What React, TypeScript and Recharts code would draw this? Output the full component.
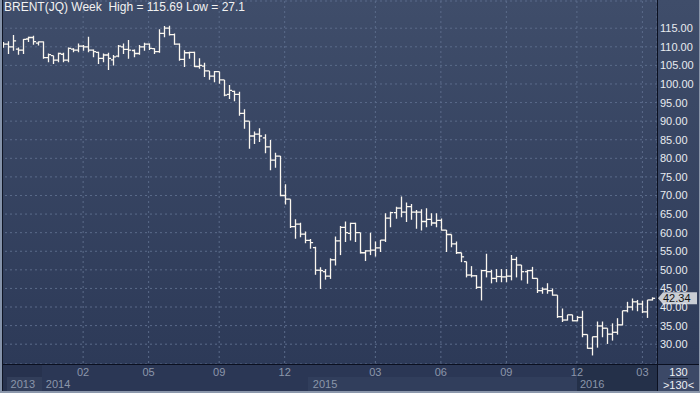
import React from 'react';
import { ComposedChart, Bar, XAxis, YAxis, CartesianGrid, ReferenceLine } from 'recharts';

// Weekly OHLC, BRENT(JQ)
const opens = [110.2, 110.7, 110.0, 109.4, 109.1, 112.1, 112.5, 111.0, 111.3, 107.1, 107.6, 106.4, 108.0, 106.4, 109.4, 109.1, 110.2, 110.0, 109.1, 108.5, 106.9, 107.8, 106.5, 107.5, 110.0, 109.3, 109.0, 108.2, 110.0, 110.7, 109.5, 108.7, 113.6, 115.0, 113.3, 110.7, 106.6, 108.4, 108.5, 104.7, 104.8, 103.5, 102.1, 103.3, 101.1, 97.2, 98.0, 97.2, 92.1, 90.0, 86.0, 86.5, 85.5, 83.1, 79.5, 80.6, 70.0, 69.0, 61.6, 62.3, 59.6, 57.9, 56.0, 49.9, 49.5, 48.3, 52.7, 57.8, 61.4, 59.8, 62.5, 60.0, 54.6, 55.1, 55.3, 55.9, 58.0, 63.9, 65.4, 66.6, 65.5, 67.0, 65.5, 65.5, 63.0, 63.6, 62.6, 63.3, 60.7, 59.5, 57.0, 54.6, 52.2, 48.6, 48.4, 45.3, 49.8, 49.5, 47.7, 48.2, 48.1, 48.3, 52.8, 51.3, 49.5, 49.8, 47.7, 44.4, 44.8, 44.4, 43.2, 37.4, 36.5, 37.9, 36.3, 37.2, 32.6, 28.9, 32.0, 34.9, 34.3, 32.7, 33.2, 35.2, 39.0, 40.0, 41.4, 40.8, 38.7, 41.9];
const highs = [111.3, 111.5, 113.2, 109.8, 112.1, 112.7, 113.0, 111.4, 111.4, 108.2, 107.6, 108.4, 108.4, 109.8, 109.6, 110.9, 110.5, 112.7, 109.3, 108.7, 108.2, 108.4, 107.8, 110.5, 110.9, 111.8, 109.3, 110.5, 111.1, 110.9, 109.6, 114.7, 115.6, 115.69, 113.6, 110.9, 109.1, 108.7, 108.7, 106.9, 105.7, 103.5, 103.5, 103.3, 101.1, 99.7, 98.2, 97.9, 93.2, 90.0, 87.2, 88.1, 86.5, 84.9, 81.5, 80.6, 73.0, 69.0, 63.6, 62.7, 60.3, 58.3, 56.2, 50.7, 50.2, 53.1, 59.0, 61.8, 63.0, 62.7, 62.7, 60.0, 55.3, 60.0, 57.6, 58.0, 65.2, 65.6, 67.0, 69.7, 68.1, 67.7, 66.1, 66.3, 66.6, 65.2, 65.2, 63.8, 60.7, 59.5, 57.6, 54.6, 52.2, 51.0, 48.6, 50.0, 54.3, 50.0, 50.2, 50.2, 50.2, 54.0, 53.5, 51.3, 50.0, 50.8, 47.7, 45.3, 46.4, 45.0, 43.2, 39.6, 37.9, 37.9, 37.6, 39.0, 32.6, 32.0, 36.1, 36.1, 34.3, 35.6, 37.0, 39.0, 41.4, 42.3, 41.9, 41.7, 41.9, 42.6];
const lows = [109.9, 108.2, 109.1, 108.0, 108.2, 111.4, 110.7, 110.5, 106.9, 106.0, 105.5, 106.0, 106.0, 106.0, 108.7, 108.7, 109.1, 108.7, 107.3, 105.5, 106.0, 103.9, 105.1, 107.3, 108.2, 106.9, 107.3, 108.0, 109.1, 109.3, 108.2, 108.5, 112.7, 113.2, 110.7, 106.4, 104.7, 106.9, 104.7, 104.2, 102.0, 101.3, 100.6, 100.2, 96.8, 96.1, 95.5, 91.6, 88.1, 82.7, 84.0, 84.5, 81.5, 76.9, 77.6, 69.9, 67.7, 61.4, 58.5, 58.9, 57.3, 55.8, 48.8, 45.0, 47.5, 47.7, 51.3, 54.1, 57.6, 58.0, 57.6, 54.5, 52.5, 54.1, 53.7, 54.9, 57.6, 61.6, 63.9, 64.3, 63.0, 63.6, 61.2, 60.7, 61.6, 62.0, 61.6, 60.7, 54.9, 56.2, 54.4, 52.2, 48.1, 48.1, 45.0, 41.9, 48.1, 46.5, 46.8, 46.8, 46.8, 47.3, 48.1, 47.3, 46.4, 47.7, 43.9, 43.7, 43.7, 43.2, 37.2, 36.1, 36.5, 36.3, 36.3, 32.0, 28.9, 27.1, 29.2, 32.0, 30.2, 31.1, 32.7, 35.2, 38.7, 39.2, 39.0, 38.5, 37.2, 41.9];
const closes = [110.7, 110.0, 111.6, 109.1, 112.0, 112.5, 111.4, 111.3, 107.1, 107.9, 106.4, 108.2, 106.4, 109.6, 109.1, 110.2, 110.0, 109.1, 108.7, 106.9, 107.8, 106.9, 107.3, 110.2, 109.3, 109.1, 108.2, 110.0, 110.7, 109.6, 108.7, 113.6, 115.0, 113.3, 110.7, 106.6, 108.4, 108.5, 104.7, 105.0, 103.5, 102.1, 103.3, 101.1, 97.0, 98.3, 97.2, 92.1, 90.0, 86.0, 86.5, 86.0, 83.1, 79.5, 80.6, 70.0, 69.0, 61.6, 62.3, 59.6, 57.9, 57.3, 49.9, 49.8, 48.3, 52.7, 57.8, 61.4, 60.0, 62.5, 60.0, 54.6, 55.1, 55.3, 55.9, 58.0, 63.9, 65.4, 66.6, 65.5, 67.0, 65.5, 65.5, 63.0, 63.6, 62.6, 63.3, 60.7, 59.5, 57.0, 54.6, 53.5, 48.6, 48.4, 45.3, 49.8, 49.5, 47.7, 48.2, 48.1, 48.3, 52.8, 51.3, 49.5, 49.8, 47.7, 44.4, 44.8, 44.4, 43.2, 37.4, 36.5, 37.9, 36.3, 37.2, 32.6, 28.9, 32.0, 34.9, 34.3, 32.7, 33.2, 35.2, 39.0, 40.0, 41.4, 40.8, 38.7, 41.9, 42.34];

const monthTickIdx = [16, 29, 43, 56, 74, 87, 100, 114, 127];
const monthTickLabels = ['02', '05', '09', '12', '03', '06', '09', '12', '03'];
const yearTickIdx = [1, 8, 61, 114];
const yearTickLabels = ['2013', '2014', '2015', '2016'];
const priceTicks = [30, 35, 40, 45, 50, 55, 60, 65, 70, 75, 80, 85, 90, 95, 100, 105, 110, 115];
const lastPrice = 42.34;
const titleText = 'BRENT(JQ) Week  High = 115.69 Low = 27.1';

const data = opens.map((o, i) => ({
  i,
  o,
  h: highs[i],
  l: lows[i],
  c: closes[i],
  range: [lows[i], highs[i]],
}));

const FONT = '"Liberation Sans Narrow", "Arial Narrow", "Liberation Sans", Arial, sans-serif';
const BAR_COLOR = '#fbf7ef';

const OhlcShape = (props: any) => {
  const { x, y, width, height, payload } = props;
  if (x == null || y == null || !payload) return null;
  const cx = Math.round(x + width / 2) + 0.5;
  const top = Math.min(y, y + height);
  const bot = Math.max(y, y + height);
  const span = payload.h - payload.l || 1;
  const yo = top + ((payload.h - payload.o) / span) * (bot - top);
  const yc = top + ((payload.h - payload.c) / span) * (bot - top);
  return (
    <g stroke={BAR_COLOR} strokeWidth={1.3}>
      <line x1={cx} x2={cx} y1={top} y2={bot + 0.5} />
      <line x1={cx - 2.6} x2={cx} y1={yo} y2={yo} />
      <line x1={cx} x2={cx + 2.6} y1={yc} y2={yc} />
    </g>
  );
};

const PriceTick = (props: any) => {
  const { y, payload } = props;
  return (
    <text x={660} y={y + 4} fill="#e8ebf0" fontSize={11} fontFamily={FONT} textAnchor="start">
      {Number(payload.value).toFixed(2)}
    </text>
  );
};

const MonthTick = (props: any) => {
  const { x, payload } = props;
  const k = monthTickIdx.indexOf(payload.value);
  return (
    <text x={x} y={376} fill="#8b96aa" fontSize={11} fontFamily={FONT} textAnchor="middle">
      {k >= 0 ? monthTickLabels[k] : ''}
    </text>
  );
};

const YearTick = (props: any) => {
  const { x, payload } = props;
  const k = yearTickIdx.indexOf(payload.value);
  return (
    <text x={x + 3} y={387.5} fill="#8b96aa" fontSize={11} fontFamily={FONT} textAnchor="start">
      {k >= 0 ? yearTickLabels[k] : ''}
    </text>
  );
};

const LastPriceLabel = (props: any) => {
  const vb = props.viewBox || {};
  const yy = vb.y;
  const xx = (vb.x || 0) + (vb.width || 0);
  if (yy == null) return null;
  const pts = `${xx + 1},${yy} ${xx + 6},${yy - 6} ${xx + 40},${yy - 6} ${xx + 40},${yy + 6} ${xx + 6},${yy + 6}`;
  return (
    <g>
      <polygon points={pts} fill="#c9cdd4" />
      <text x={xx + 6} y={yy + 4} fill="#111" fontSize={11} fontFamily={FONT}>
        {lastPrice.toFixed(2)}
      </text>
    </g>
  );
};

const abs = (s: React.CSSProperties): React.CSSProperties => ({ position: 'absolute', ...s });

export default function App() {
  return (
    <div
      style={{
        position: 'fixed',
        left: 0,
        top: 0,
        width: 700,
        height: 393,
        overflow: 'hidden',
        background: 'linear-gradient(to bottom, #3f4d6a 0px, #2d3a58 364px, #28344f 364px, #28344f 393px)',
      }}
    >
      {/* axis area bands */}
      <div style={abs({ left: 0, top: 364, width: 42, height: 29, background: '#27324e' })} />
      <div style={abs({ left: 7, top: 377, width: 35, height: 14, background: '#323e5a' })} />
      <div style={abs({ left: 42, top: 364, width: 266, height: 29, background: '#2b3755' })} />
      <div style={abs({ left: 308, top: 364, width: 269, height: 13, background: '#2b3755' })} />
      <div style={abs({ left: 308, top: 377, width: 269, height: 14, background: '#313e5c' })} />
      <div style={abs({ left: 577, top: 364, width: 80, height: 29, background: '#243049' })} />
      <div style={abs({ left: 657, top: 364, width: 43, height: 29, background: '#3c4967' })} />

      <div style={abs({ left: 0, top: 0 })}>
        <ComposedChart width={700} height={393} data={data} margin={{ top: 1, right: 0, left: 0, bottom: 0 }}>
          <CartesianGrid stroke="#5b6b8a" strokeDasharray="2 3" />
          <XAxis
            dataKey="i"
            type="category"
            ticks={monthTickIdx}
            interval={0}
            height={13}
            axisLine={false}
            tickLine={false}
            padding={{ left: 0, right: 2 }}
            tick={<MonthTick />}
          />
          <XAxis
            xAxisId="yr"
            dataKey="i"
            type="category"
            ticks={yearTickIdx}
            interval={0}
            height={16}
            axisLine={false}
            tickLine={false}
            padding={{ left: 0, right: 2 }}
            tick={<YearTick />}
          />
          <YAxis
            orientation="right"
            type="number"
            width={43}
            domain={[24.67, 122.32]}
            allowDataOverflow
            ticks={priceTicks}
            interval={0}
            axisLine={false}
            tickLine={false}
            tick={<PriceTick />}
          />
          <Bar dataKey="range" shape={<OhlcShape />} isAnimationActive={false} />
          <ReferenceLine y={lastPrice} stroke="none" label={(p: any) => <LastPriceLabel {...p} />} />
        </ComposedChart>
      </div>

      {/* frame lines */}
      <div style={abs({ left: 0, top: 364, width: 700, height: 1, background: '#0b1020' })} />
      <div style={abs({ left: 657, top: 0, width: 1, height: 393, background: '#0b1020' })} />
      <div style={abs({ left: 0, top: 0, width: 2, height: 393, background: '#8593aa' })} />
      <div style={abs({ left: 2, top: 0, width: 1, height: 393, background: '#0f1524' })} />
      <div style={abs({ left: 0, top: 391, width: 700, height: 2, background: '#8b97ab' })} />
      <div style={abs({ left: 699, top: 0, width: 1, height: 393, background: '#8b97ab' })} />

      {/* bar count box */}
      <div style={abs({ left: 658, top: 366, width: 41, textAlign: 'center', color: '#eef0f4', fontSize: 11, fontFamily: FONT, lineHeight: '12px' })}>130</div>
      <div style={abs({ left: 668, top: 378, width: 20, height: 1, background: '#1c2438' })} />
      <div style={abs({ left: 658, top: 379, width: 41, textAlign: 'center', color: '#eef0f4', fontSize: 11, fontFamily: FONT, lineHeight: '12px' })}>{'>130<'}</div>

      {/* title */}
      <div style={abs({ left: 4, top: 1, color: '#f2f2f2', fontSize: 12, fontFamily: FONT, whiteSpace: 'pre', lineHeight: '13px' })}>
        {titleText}
      </div>
    </div>
  );
}
